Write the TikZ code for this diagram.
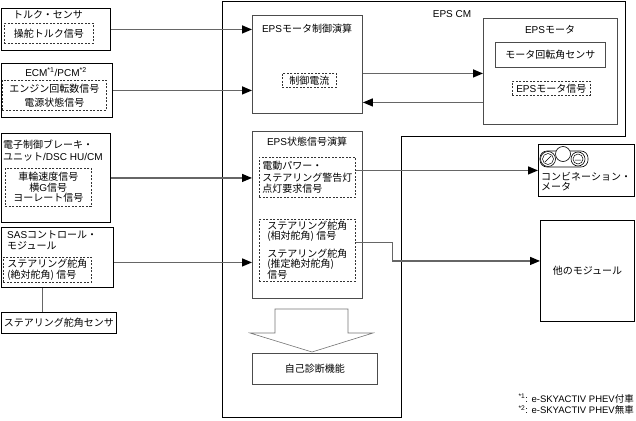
\documentclass[tikz,border=0pt]{standalone}
\usepackage{fontspec}
\setmainfont{Noto Sans CJK JP}
\newfontfamily\latfont{Liberation Sans}
\newcommand\en[1]{{\latfont #1}}
\usetikzlibrary{arrows.meta, positioning}

\tikzset{
  sz/.style 2 args={minimum width=#1pt, minimum height=#2pt},
  blk/.style={draw=black, line width=0.9pt, anchor=north west, inner sep=0pt},
  sub/.style={draw=black!70, line width=0.9pt, anchor=north west, inner sep=0pt},
  sig/.style={draw=black!80, dash pattern=on 2pt off 1.5pt, line width=0.6pt, anchor=north west, inner sep=0pt},
  lnk/.style={draw=black!60, line width=1.4pt},
  arr/.style={lnk, -{Triangle[length=10pt,width=8pt,color=black]}},
  cmframe/.style={draw=black, line width=1pt},
}

\begin{document}
\begin{tikzpicture}[x=1pt, y=-1pt, font=\fontsize{10}{12}\selectfont, inner sep=0pt]
\useasboundingbox (0,0) rectangle (636,420);

% sensors and modules on the left
\node[blk, sz={109}{42}] (torque) at (1,8) {};
\node (torquet) at (48,15) {トルク・センサ};
\node[sig, sz={89}{20}] (tsig) at (4,23) {操舵トルク信号};

\node[blk, sz={111}{54}] (ecm) at (1,63) {};
\node (ecmt) at (56,72) {\en{ECM\textsuperscript{*1}/PCM\textsuperscript{*2}}};
\node[sig, sz={104}{30}, align=center] (esig) at (2,80) {エンジン回転数信号\\[2pt]電源状態信号};

\node[blk, sz={109}{89}] (brake) at (1,133) {};
\node[anchor=west, align=left] (braket) at (3,151) {電子制御ブレーキ・\\ユニット\en{/DSC HU/CM}};
\node[sig, sz={86}{38}, align=center, font=\fontsize{10}{10.5}\selectfont] (bsig) at (5,168) {車輪速度信号\\横\en{G}信号\\ヨーレート信号};

\node[blk, sz={112}{60}] (sas) at (1,227) {};
\node[anchor=west, align=left, font=\fontsize{10}{11}\selectfont] (sast) at (7,240.5) {\en{SAS}コントロール・\\モジュール};
\node[sig, sz={88}{25}, align=left, font=\fontsize{10}{11}\selectfont] (ssig) at (3,257) {ステアリング舵角\\(絶対舵角) 信号};

\node[blk, sz={115}{21}] (sangle) at (1,312) {ステアリング舵角センサ};

% EPS CM
\draw[cmframe] (222,2) -- (625,2) -- (625,136) -- (401,136) -- (401,417) -- (222,417) -- cycle;
\node (cmt) at (452,14) {\en{EPS CM}};

\node[sub, sz={110}{98}] (mctrl) at (252,15) {};
\node (mctrlt) at (307,29) {\en{EPS}モータ制御演算};
\node[sig, sz={54}{14}] (isig) at (282,73) {制御電流};

\node[sub, sz={110}{167}] (state) at (252,131) {};
\node (statet) at (307,142) {\en{EPS}状態信号演算};
\node[sig, sz={96}{40}, align=left, font=\fontsize{10}{11.5}\selectfont] (wsig) at (259,157) {電動パワー・\\ステアリング警告灯\\点灯要求信号};
\node[sig, sz={96}{62}, align=left, font=\fontsize{10}{10}\selectfont] (asig) at (259,219) {ステアリング舵角\\(相対舵角) 信号\\[7pt]ステアリング舵角\\(推定絶対舵角)\\信号};

\draw[black!55, line width=0.6pt] (275,309) -- (348,309) -- (348,333) -- (373,333) -- (312,352) -- (250,333) -- (275,333) -- cycle;
\node[sub, sz={125}{31}] (diag) at (252,353) {自己診断機能};

% motor and outputs
\node[sub, sz={134}{106}] (motor) at (483,18) {};
\node (motort) at (550,30) {\en{EPS}モータ};
\node[sub, sz={110}{25}] (rot) at (495,42) {モータ回転角センサ};
\node[sig, sz={78}{14}] (msig) at (512,81) {\en{EPS}モータ信号};

\node[blk, sz={96}{52}] (meter) at (538,144) {};
\draw[black, line width=0.6pt, rounded corners=7pt] (540,151) rectangle (588,167);
\filldraw[fill=white, draw=black, line width=0.6pt] (548,159) circle (7.5);
\draw[black, line width=0.5pt] (548,159) circle (5.5) (545,162) -- (551,156);
\filldraw[fill=white, draw=black, line width=0.6pt] (578,159) circle (7);
\draw[black, line width=0.5pt] (578,159) circle (5) (575,160) -- (581,160);
\filldraw[fill=white, draw=black, line width=0.6pt] (563,154) circle (7.5);
\node[anchor=west, align=left, font=\fontsize{10}{10}\selectfont] (metert) at (541,182) {コンビネーション・\\メータ};

\node[blk, sz={94}{101}] (other) at (540,220) {他のモジュール};

\node[anchor=east, font=\fontsize{9.5}{10}\selectfont] (fn1) at (634,399) {\en{\textsuperscript{*1}: e-SKYACTIV PHEV}付車};
\node[anchor=east, font=\fontsize{9.5}{10}\selectfont] (fn2) at (634,410) {\en{\textsuperscript{*2}: e-SKYACTIV PHEV}無車};

% connectors
\coordinate (sasout) at ([yshift=-5pt]sas.east);
\coordinate (sasdn) at ([xshift=-15pt]sas.south);
\coordinate (ctlout) at ([yshift=-9pt]mctrl.east);
\coordinate (motout) at ([yshift=-31pt]motor.west);
\coordinate (angout) at ([yshift=8pt]asig.east);
\coordinate (othin) at ([yshift=10pt]other.west);

\draw[arr] (torque.east) -- (torque.east -| mctrl.west);
\draw[arr] (ecm.east) -- (ecm.east -| mctrl.west);
\draw[arr] (brake.east) -- (brake.east -| state.west);
\draw[arr] (sasout) -- (sasout -| state.west);
\draw[lnk] (sasdn) -- (sasdn |- sangle.north);
\draw[arr] (ctlout) -- (ctlout -| motor.west);
\draw[arr] (motout) -- (motout -| mctrl.east);
\draw[arr] (meter.west -| wsig.east) -- (meter.west);
\draw[arr] (angout) -- ++(37,0) |- (othin);
\end{tikzpicture}
\end{document}
